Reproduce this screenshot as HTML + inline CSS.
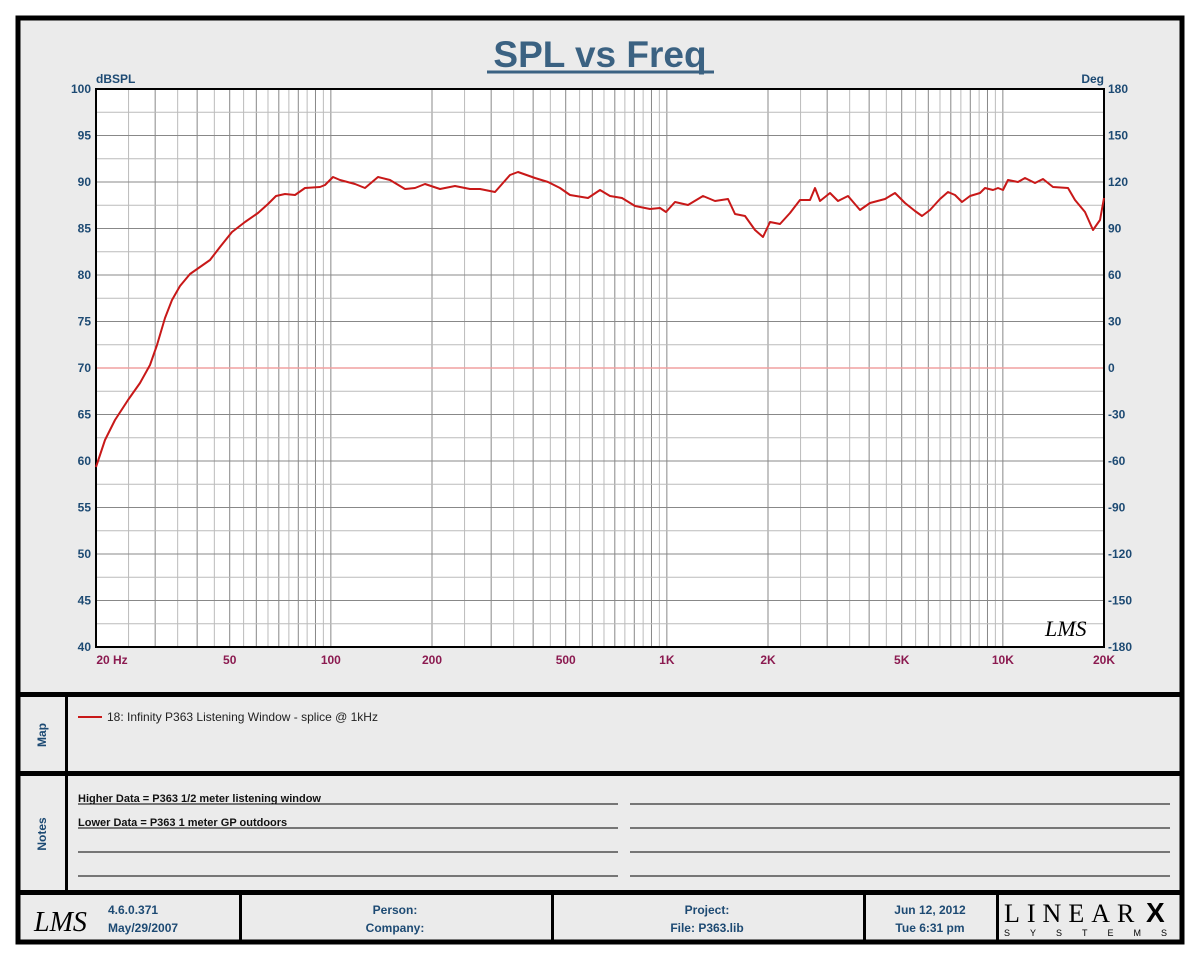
<!DOCTYPE html>
<html><head><meta charset="utf-8"><style>
body{margin:0;background:#fff;}
svg{display:block;font-family:"Liberation Sans",Arial,sans-serif;}
</style></head><body>
<svg id="s" width="1200" height="960" xmlns="http://www.w3.org/2000/svg">
<rect x="18" y="18" width="1164" height="924" fill="#ebebeb" stroke="#000" stroke-width="5"/>
<rect x="96" y="89" width="1008" height="558" fill="#fff"/>
<g id="grid"></g>
<line x1="96" y1="368" x2="1104" y2="368" stroke="#f0a0a0" stroke-width="1.5"/>
<rect x="96" y="89" width="1008" height="558" fill="none" stroke="#000" stroke-width="2"/>
<text x="600" y="67" text-anchor="middle" font-size="37" font-weight="bold" fill="#3b6282">SPL vs Freq</text>
<line x1="487" y1="72" x2="714" y2="72" stroke="#3b6282" stroke-width="3"/>
<text x="96" y="83" font-size="12" font-weight="bold" fill="#1d4a73">dBSPL</text>
<text x="1104" y="83" font-size="12" font-weight="bold" fill="#1d4a73" text-anchor="end">Deg</text>
<g id="lab" font-size="12" font-weight="bold" fill="#1d4a73"></g>
<g id="xl" font-size="12" font-weight="bold" fill="#8b1a50" text-anchor="middle"></g>
<polyline fill="none" stroke="#c81818" stroke-width="2" stroke-linejoin="round" points="96,467 105,440 115,420 128,400 140,383 150,365 157,345 165,318 172,300 180,286 190,274 200,267 210,260 220,247 232,232 245,222 258,213 268,204 276,196 285,194 295,195 305,188 320,187 325,185 333,177 340,180 355,184 365,188 378,177 390,180 405,189 415,188 425,184 440,189 455,186 470,189 480,189 495,192 510,175 518,172 535,178 548,182 560,188 570,195 588,198 600,190 610,196 622,198 635,206 650,209 660,208 666,212 675,202 688,205 703,196 715,201 728,199 735,214 745,216 755,230 763,237 770,222 780,224 790,213 800,200 810,200 815,188 820,201 830,193 838,201 848,196 860,210 870,203 885,199 895,193 905,203 915,211 922,216 930,210 940,199 948,192 955,195 962,202 970,196 980,193 985,188 993,190 998,188 1003,190 1008,180 1018,182 1025,178 1035,183 1043,179 1053,187 1068,188 1075,200 1085,212 1093,230 1100,220 1104,198"/>
<text x="1045" y="636" font-size="22" font-style="italic" font-family="Liberation Serif,serif" fill="#000">LMS</text>
<rect x="18" y="692" width="1164" height="5" fill="#000"/>
<rect x="18" y="771" width="1164" height="5" fill="#000"/>
<rect x="18" y="890" width="1164" height="5" fill="#000"/>
<rect x="65" y="695" width="3" height="197" fill="#000"/>
<text transform="translate(46,735) rotate(-90)" text-anchor="middle" font-size="12" font-weight="bold" fill="#1d4a73">Map</text>
<text transform="translate(46,834) rotate(-90)" text-anchor="middle" font-size="12" font-weight="bold" fill="#1d4a73">Notes</text>
<line x1="78" y1="717" x2="102" y2="717" stroke="#c81818" stroke-width="2"/>
<text x="107" y="721" font-size="12" fill="#222">18: Infinity P363 Listening Window - splice @ 1kHz</text>
<g stroke="#000" stroke-width="1">
<line x1="78" y1="804" x2="618" y2="804"/><line x1="630" y1="804" x2="1170" y2="804"/>
<line x1="78" y1="828" x2="618" y2="828"/><line x1="630" y1="828" x2="1170" y2="828"/>
<line x1="78" y1="852" x2="618" y2="852"/><line x1="630" y1="852" x2="1170" y2="852"/>
<line x1="78" y1="876" x2="618" y2="876"/><line x1="630" y1="876" x2="1170" y2="876"/>
</g>
<text x="78" y="802" font-size="11" font-weight="bold" fill="#111">Higher Data = P363 1/2 meter listening window</text>
<text x="78" y="826" font-size="11" font-weight="bold" fill="#111">Lower  Data = P363 1 meter GP outdoors</text>
<g fill="#000"><rect x="239" y="893" width="3" height="49"/><rect x="551" y="893" width="3" height="49"/><rect x="863" y="893" width="3" height="49"/><rect x="996" y="893" width="3" height="49"/></g>
<text x="34" y="931" font-size="28" font-style="italic" font-family="Liberation Serif,serif" fill="#000">LMS</text>
<g font-size="12" font-weight="bold" fill="#1d4a73">
<text x="108" y="914">4.6.0.371</text><text x="108" y="932">May/29/2007</text>
<text x="395" y="914" text-anchor="middle">Person:</text><text x="395" y="932" text-anchor="middle">Company:</text>
<text x="707" y="914" text-anchor="middle">Project:</text><text x="707" y="932" text-anchor="middle">File: P363.lib</text>
<text x="930" y="914" text-anchor="middle">Jun 12, 2012</text><text x="930" y="932" text-anchor="middle">Tue  6:31 pm</text>
</g>
<text x="1004" y="922" font-size="26" font-family="Liberation Serif,serif" fill="#000" letter-spacing="7">LINEAR</text>
<text x="1146" y="922" font-size="28" font-weight="bold" fill="#000">X</text>
<text x="1004" y="936" font-size="9" fill="#000" letter-spacing="20">SYSTEMS</text>
</svg>
<script>
var ns="http://www.w3.org/2000/svg";
function el(p,t,a,txt){var e=document.createElementNS(ns,t);for(var k in a)e.setAttribute(k,a[k]);if(txt!=null)e.textContent=txt;document.getElementById(p).appendChild(e);}
function X(f){return 96+336*Math.log10(f/20);}
for(var d=10;d<=10000;d*=10){for(var m=2;m<=10;m+=0.5){var f=m*d;if(f<=20||f>=20000)continue;var dark=(m%1==0);el('grid','line',{x1:X(f),y1:89,x2:X(f),y2:647,stroke:dark?'#888':'#bbb','stroke-width':1});}}
for(var i=1;i<24;i++){var y=89+i*558/24;el('grid','line',{x1:96,y1:y,x2:1104,y2:y,stroke:(i%2==0)?'#888':'#bbb','stroke-width':1});}
for(var i=0;i<=12;i++){var y=89+i*46.5;el('lab','text',{x:91,y:y+4,'text-anchor':'end'},String(100-5*i));el('lab','text',{x:1108,y:y+4},String(180-30*i));}
var xs=[[20,"20  Hz"],[50,"50"],[100,"100"],[200,"200"],[500,"500"],[1000,"1K"],[2000,"2K"],[5000,"5K"],[10000,"10K"],[20000,"20K"]];
xs.forEach(function(a){var x=X(a[0]);if(a[0]==20)x=112;el('xl','text',{x:x,y:664},a[1]);});
</script>
</body></html>
